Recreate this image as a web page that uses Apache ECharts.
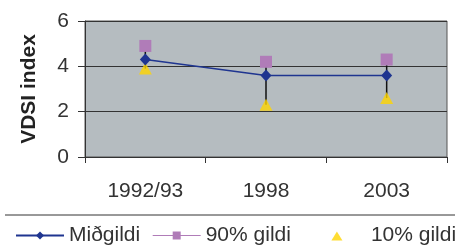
<!DOCTYPE html>
<html><head><meta charset="utf-8">
<script src="https://cdn.jsdelivr.net/npm/echarts@6/dist/echarts.min.js"></script>
<style>html,body{margin:0;padding:0;background:#fff}#c{width:455px;height:248px}</style>
</head><body><div id="c"></div>
<script>
const categories = ['1992/93', '1998', '2003'];
const median = [4.3, 3.6, 3.6];
const p90 = [4.9, 4.2, 4.3];
const p10 = [3.9, 2.3, 2.6];
const yTicks = [0, 2, 4, 6];
const seriesNames = ['Miðgildi', '90% gildi', '10% gildi'];

const chart = echarts.init(document.getElementById('c'), null, {renderer: 'canvas'});
const font = 'Liberation Sans, Arial, sans-serif';
chart.setOption({
  animation: false,
  textStyle: {fontFamily: font},
  grid: {left: 85, right: 8, top: 21, bottom: 91, show: true, backgroundColor: '#b5bcc0', borderColor: '#555', borderWidth: 1},
  xAxis: {
    type: 'category', data: categories, boundaryGap: true,
    axisLine: {lineStyle: {color: '#333', width: 1}},
    axisTick: {show: true, length: 6, lineStyle: {color: '#333'}},
    axisLabel: {color: '#333', fontSize: 21, fontFamily: font, margin: 24},
    splitLine: {show: false}
  },
  yAxis: {
    type: 'value', min: yTicks[0], max: yTicks[yTicks.length - 1], interval: 2,
    name: 'VDSI index', nameLocation: 'middle', nameRotate: 90, nameGap: 45,
    nameTextStyle: {color: '#222', fontSize: 21, fontWeight: 'bold', fontFamily: font},
    axisLine: {show: true, lineStyle: {color: '#333', width: 1}},
    axisTick: {show: true, length: 7, lineStyle: {color: '#333'}},
    axisLabel: {color: '#333', fontSize: 21, fontFamily: font, margin: 16},
    splitLine: {show: true, lineStyle: {color: '#333', width: 1.2}}
  },
  legend: {
    left: 10, top: 220, width: 900, itemGap: 12, itemWidth: 48, itemHeight: 10,
    symbolKeepAspect: true,
    textStyle: {color: '#333', fontSize: 21, fontFamily: font},
    data: [
      {name: seriesNames[0]},
      {name: seriesNames[1], lineStyle: {opacity: 1, color: '#b07cb8', width: 1}},
      {name: seriesNames[2], icon: 'path://M0,0M48,10M34,1L39.5,10L28.5,10Z', textStyle: {padding: [0, 0, 0, 15]}}
    ]
  },
  graphic: [{type: 'line', shape: {x1: 5, y1: 215, x2: 455, y2: 215}, style: {stroke: '#333', lineWidth: 1}, silent: true}],
  series: [
    {
      type: 'custom', name: 'hilo', z: 1, silent: true,
      data: categories.map((c, i) => [i, p90[i], p10[i]]),
      renderItem: function (params, api) {
        const a = api.coord([api.value(0), api.value(1)]);
        const b = api.coord([api.value(0), api.value(2)]);
        return {type: 'line', shape: {x1: a[0], y1: a[1], x2: b[0], y2: b[1]}, style: {stroke: '#111', lineWidth: 1.5}};
      }
    },
    {
      type: 'line', name: seriesNames[1], data: p90, z: 3,
      symbol: 'rect', symbolSize: 12, itemStyle: {color: '#b07cb8'},
      lineStyle: {opacity: 0, color: '#b07cb8', width: 1}
    },
    {
      type: 'scatter', name: seriesNames[2], data: p10, z: 3,
      symbol: 'triangle', symbolSize: [13, 12], itemStyle: {color: '#ffd400'}
    },
    {
      type: 'line', name: seriesNames[0], data: median, z: 4,
      symbol: 'diamond', symbolSize: [11, 12], itemStyle: {color: '#1f3590'},
      lineStyle: {color: '#1f3590', width: 1.5}
    }
  ]
});
</script></body></html>
